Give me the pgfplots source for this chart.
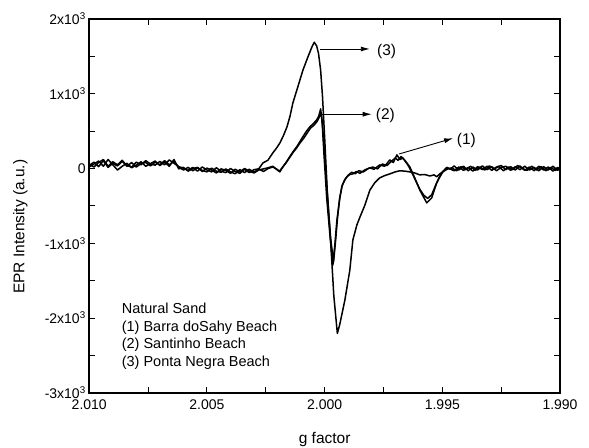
\documentclass[border=0pt]{standalone}
\usepackage{fontspec}
\setmainfont{Liberation Sans}
\usepackage{pgfplots}
\pgfplotsset{compat=1.18}
\usetikzlibrary{arrows.meta}

\begin{document}
\begin{tikzpicture}
\begin{axis}[
  scale only axis, width=471pt, height=374pt,
  x dir=reverse, xmin=1.990, xmax=2.010, ymin=-3000, ymax=2000,
  xtick={1.990,1.995,2.000,2.005,2.010},
  xticklabels={1.990,1.995,2.000,2.005,2.010},
  minor xtick={1.9925,1.9975,2.0025,2.0075},
  ytick={-3000,-2000,-1000,0,1000,2000},
  yticklabels={-3x10\textsuperscript{3},-2x10\textsuperscript{3},-1x10\textsuperscript{3},0,1x10\textsuperscript{3},2x10\textsuperscript{3}},
  minor ytick={-2500,-1500,-500,500,1500},
  tick align=inside, major tick length=6pt, minor tick length=6pt,
  tick style={line width=1pt, black},
  axis line style={line width=1.5pt},
  scaled y ticks=false, scaled x ticks=false,
  tick label style={font=\fontsize{14}{16}\selectfont},
  xticklabel style={yshift=-3pt},
  label style={font=\fontsize{15.5}{18}\selectfont},
  xlabel={g factor}, ylabel={EPR Intensity (a.u.)},
  xlabel style={at={(rel axis cs:0.5,-0.1240)}, anchor=center},
  ylabel style={at={(rel axis cs:-0.1465,0.444)}, anchor=center},
  clip=false,
]
% (3) Ponta Negra Beach
\addplot[black, line width=1.5pt, mark=none, line join=round] coordinates {
(2.0100,40)(2.0098,85)(2.0096,25)(2.0094,105)(2.0092,15)(2.0090,70)(2.0088,35)(2.0086,95)(2.0084,40)(2.0082,20)
(2.0080,85)(2.0078,50)(2.0076,105)(2.0074,60)(2.0072,45)(2.0070,95)(2.0068,50)(2.0066,115)(2.0064,70)(2.0062,25)
(2.0060,5)(2.0058,-25)(2.0056,15)(2.0054,-35)(2.0052,20)(2.0050,-20)(2.0048,-45)(2.0046,10)(2.0044,-35)(2.0042,-55)
(2.0040,0)(2.0038,-40)(2.0036,-65)(2.0034,-10)(2.0032,-55)(2.0030,-15)(2.0028,-5)
(2.00262,75)(2.00241,110)(2.00220,209)(2.00205,270)(2.00190,342)(2.00175,440)(2.00160,556)(2.00147,700)
(2.00135,876)(2.00115,1080)(2.00092,1318)(2.00071,1492)(2.00054,1626)(2.00044,1689)(2.00034,1640)(2.00026,1540)
(2.00017,1318)(2.00009,961)(1.99999,360)(1.99989,-286)(1.99974,-1000)(1.99961,-1700)(1.99946,-2205)
(1.99936,-2090)(1.99914,-1760)(1.99893,-1360)(1.99880,-955)(1.99863,-755)(1.99850,-650)(1.99829,-490)
(1.99808,-290)(1.99787,-190)(1.99766,-125)(1.99745,-95)(1.99723,-72)(1.99700,-45)(1.99681,-30)(1.99660,-35)
(1.99638,-45)(1.99617,-60)(1.99596,-85)(1.99575,-80)(1.99553,-100)(1.99535,-85)(1.99524,-110)(1.99510,-70)
(1.99498,-45)(1.99480,-10)(1.9946,10)
(1.9944,-30)(1.9942,25)(1.9940,-15)(1.9938,30)(1.9936,-25)(1.9934,20)(1.9932,-20)(1.9930,35)(1.9928,-5)(1.9926,25)
(1.9924,-30)(1.9922,20)(1.9920,-15)(1.9918,40)(1.9916,0)(1.9914,-25)(1.9912,30)(1.9910,-20)(1.9908,25)(1.9906,-30)
(1.9904,15)(1.9902,-25)(1.9900,10)
};
% (2) Santinho Beach
\addplot[black, line width=1.5pt, mark=none, line join=round] coordinates {
(2.0100,20)(2.0098,60)(2.0096,100)(2.0094,30)(2.0092,120)(2.0090,50)(2.0088,-20)(2.0086,30)(2.0084,70)(2.0082,10)
(2.0080,45)(2.0078,90)(2.0076,30)(2.0074,65)(2.0072,100)(2.0070,40)(2.0068,85)(2.0066,30)(2.0064,120)(2.0062,-5)
(2.0060,15)(2.0058,-35)(2.0056,0)(2.0054,15)(2.0052,-40)(2.0050,5)(2.0048,-20)(2.0046,-60)(2.0044,-5)(2.0042,-25)
(2.0040,-65)(2.0038,-10)(2.0036,-45)(2.0034,0)(2.0032,-35)(2.0030,-60)(2.0028,-20)(2.0026,-5)(2.0024,10)(2.0022,30)
(2.00205,-10)(2.00190,-45)(2.00177,25)(2.00162,90)(2.00148,160)(2.00133,230)(2.00118,293)(2.00105,360)(2.00092,427)
(2.00077,500)(2.00062,560)(2.00048,600)(2.00034,650)(2.00025,700)(2.00017,797)(2.00010,600)(2.00003,200)
(1.99991,-400)(1.99978,-870)(1.99965,-1292)(1.99956,-1000)(1.99948,-700)(1.99937,-420)(1.99927,-246)(1.99916,-160)
(1.99906,-112)(1.99893,-80)(1.99880,-72)(1.99865,-40)(1.99850,-65)(1.99830,-20)(1.99808,8)(1.99790,-10)(1.99766,48)
(1.99745,30)(1.99723,115)(1.99708,80)(1.99693,182)(1.99680,120)(1.99668,142)(1.99652,80)(1.99638,21)(1.99617,-126)
(1.99596,-286)(1.99580,-380)(1.99566,-460)(1.99545,-393)(1.99524,-193)(1.99510,-110)(1.99498,-45)(1.99483,10)(1.99468,-5)
(1.9945,-30)(1.9943,20)(1.9941,-25)(1.9939,15)(1.9937,-35)(1.9935,25)(1.9933,-15)(1.9931,30)(1.9929,-25)(1.9927,20)
(1.9925,40)(1.9923,-15)(1.9921,25)(1.9919,-20)(1.9917,35)(1.9915,-25)(1.9913,20)(1.9911,-30)(1.9909,30)(1.9907,-20)
(1.9905,20)(1.9903,-35)(1.9901,15)(1.9900,-10)
};
% (1) Barra do Sahy Beach
\addplot[black, line width=1.5pt, mark=none, line join=round] coordinates {
(2.0100,60)(2.0098,20)(2.0096,80)(2.0094,120)(2.0092,30)(2.0090,90)(2.0088,50)(2.0086,110)(2.0084,30)(2.0082,80)
(2.0080,20)(2.0078,65)(2.0076,80)(2.0074,35)(2.0072,85)(2.0070,50)(2.0068,105)(2.0066,50)(2.0064,95)(2.0062,20)
(2.0060,-20)(2.0058,15)(2.0056,-30)(2.0054,10)(2.0052,-25)(2.0050,-45)(2.0048,5)(2.0046,-35)(2.0044,-50)(2.0042,-5)
(2.0040,-45)(2.0038,-70)(2.0036,-15)(2.0034,-55)(2.0032,-10)(2.0030,-50)(2.0028,-5)(2.0026,-40)(2.0024,0)(2.0022,20)
(2.00205,-5)(2.00192,-35)(2.00180,10)(2.00165,70)(2.00150,140)(2.00135,210)(2.00120,270)(2.00105,340)(2.00090,400)
(2.00075,470)(2.00060,540)(2.00045,580)(2.00032,630)(2.00022,690)(2.00014,750)(2.00006,450)(1.99996,0)
(1.99985,-500)(1.99974,-950)(1.99962,-1250)(1.99953,-950)(1.99945,-650)(1.99935,-380)(1.99925,-220)(1.99912,-140)
(1.99900,-90)(1.99885,-50)(1.99870,-70)(1.99855,-30)(1.99835,-45)(1.99815,0)(1.99795,20)(1.99775,-5)(1.99755,60)
(1.99735,40)(1.99715,100)(1.99700,140)(1.99688,110)(1.99675,160)(1.99660,110)(1.99645,40)(1.99630,-50)(1.99612,-170)
(1.99595,-280)(1.99578,-360)(1.99562,-400)(1.99545,-350)(1.99528,-220)(1.99512,-110)(1.99498,-40)(1.99480,15)(1.99465,-10)
(1.9945,35)(1.9943,-20)(1.9941,30)(1.9939,-30)(1.9937,20)(1.9935,-20)(1.9933,35)(1.9931,-15)(1.9929,25)(1.9927,-30)
(1.9925,15)(1.9923,30)(1.9921,-25)(1.9919,25)(1.9917,-15)(1.9915,30)(1.9913,-20)(1.9911,15)(1.9909,-30)(1.9907,25)
(1.9905,-20)(1.9903,30)(1.9901,-25)(1.9900,0)
};
% annotations
\draw[line width=0.9pt, -{Latex[length=9pt,width=5pt]}] (axis cs:2.00019,1599) -- (axis cs:1.99808,1599);
\node[anchor=west, inner sep=1pt, font=\fontsize{15.5}{18}\selectfont] at (axis cs:1.99782,1560) {(3)};
\draw[line width=0.9pt, -{Latex[length=9pt,width=5pt]}] (axis cs:2.00013,726) -- (axis cs:1.99800,726);
\node[anchor=west, inner sep=1pt, font=\fontsize{15.5}{18}\selectfont] at (axis cs:1.99787,707) {(2)};
\draw[line width=0.9pt, -{Latex[length=9pt,width=5pt]}] (axis cs:1.99683,195) -- (axis cs:1.99454,405);
\node[anchor=west, inner sep=1pt, font=\fontsize{15.5}{18}\selectfont] at (axis cs:1.99443,373) {(1)};
\node[anchor=north west, align=left, inner sep=0pt, font=\fontsize{14.5}{17.7}\selectfont]
  at (rel axis cs:0.0688,0.2406) {Natural Sand\\(1) Barra doSahy Beach\\(2) Santinho Beach\\(3) Ponta Negra Beach};
\end{axis}
\pgfresetboundingbox
\path[use as bounding box] ([xshift=-89.3pt,yshift=-55pt]current axis.south west) rectangle ([xshift=29pt,yshift=19pt]current axis.north east);
\end{tikzpicture}
\end{document}
